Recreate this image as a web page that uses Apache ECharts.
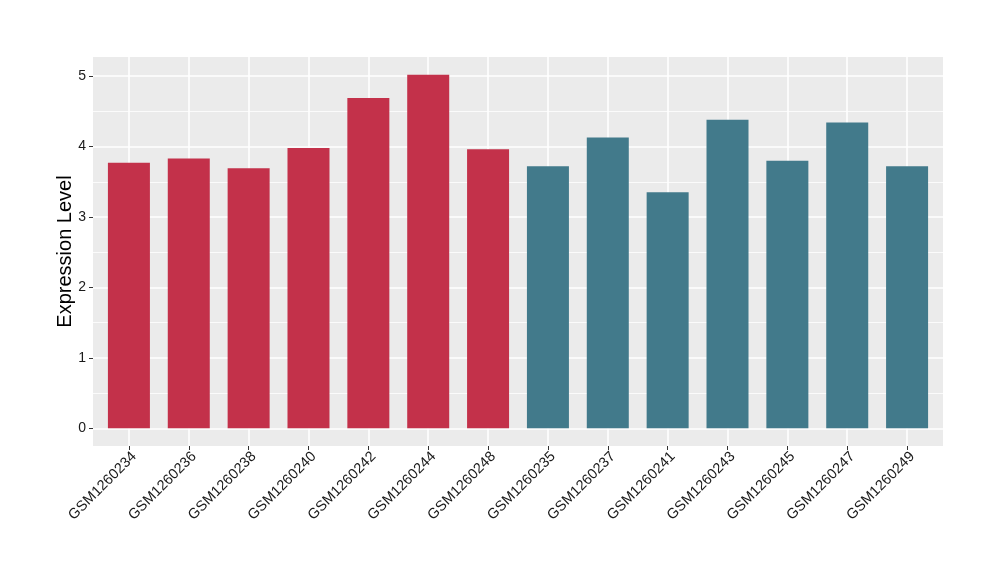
<!DOCTYPE html>
<html><head><meta charset="utf-8">
<script src="https://cdn.jsdelivr.net/npm/echarts@6/dist/echarts.min.js"></script>
<style>html,body{margin:0;padding:0;background:#fff}#c{width:1000px;height:580px}</style>
</head><body><div id="c"></div>
<script>
const categories = ["GSM1260234","GSM1260236","GSM1260238","GSM1260240","GSM1260242","GSM1260244","GSM1260248","GSM1260235","GSM1260237","GSM1260241","GSM1260243","GSM1260245","GSM1260247","GSM1260249"];
const values = [3.77,3.83,3.69,3.98,4.69,5.02,3.96,3.72,4.13,3.35,4.38,3.80,4.34,3.72];
const groups = ["A","A","A","A","A","A","A","B","B","B","B","B","B","B"];
const groupColors = {A:"#C3314A", B:"#427A8B"};
const yTicks = [0,1,2,3,4,5];
const yMinor = [0.5,1.5,2.5,3.5,4.5];

const xIdx = categories.map((_, i) => i);
const font = "Liberation Sans, Arial, Helvetica, sans-serif";
const chart = echarts.init(document.getElementById('c'), null, {renderer:'canvas'});
chart.setOption({
  animation:false,
  backgroundColor:'#ffffff',
  grid:{left:93,right:57,top:57,bottom:134,show:true,backgroundColor:'#EBEBEB',borderWidth:0},
  xAxis:{
    type:'value', min:-0.6, max:categories.length-0.4,
    axisLine:{show:false,onZero:false},
    axisTick:{show:true,length:4,lineStyle:{color:'#333333',width:1},customValues:xIdx},
    axisLabel:{customValues:xIdx,rotate:45,margin:3,verticalAlign:'top',fontSize:14.5,color:'#1A1A1A',fontFamily:font,
      formatter:(v)=>categories[Math.round(v)]},
    splitLine:{show:true,lineStyle:{color:'#FFFFFF',width:1.6}}
  },
  yAxis:{
    type:'value', min:-0.251, max:5.271,
    name:'Expression Level', nameLocation:'middle', nameGap:18, nameMoveOverlap:false,
    nameTextStyle:{fontSize:20,color:'#000000',fontFamily:font},
    axisLine:{show:false,onZero:false},
    axisTick:{show:true,length:4,lineStyle:{color:'#333333',width:1},customValues:yTicks},
    axisLabel:{customValues:yTicks,margin:7,fontSize:14,color:'#1A1A1A',fontFamily:font},
    splitLine:{show:true,lineStyle:{color:'#FFFFFF',width:1.6}}
  },
  series:[
    {type:'line',data:[],z:1,silent:true,
     markLine:{silent:true,z:1,symbol:'none',label:{show:false},
       lineStyle:{color:'#FFFFFF',width:0.8,type:'solid'},
       data:yMinor.map(v=>({yAxis:v}))}},
    {type:'bar',z:2,barWidth:42,
     data:values.map((v,i)=>({value:[i,v],itemStyle:{color:groupColors[groups[i]]}}))}
  ]
});
</script></body></html>
